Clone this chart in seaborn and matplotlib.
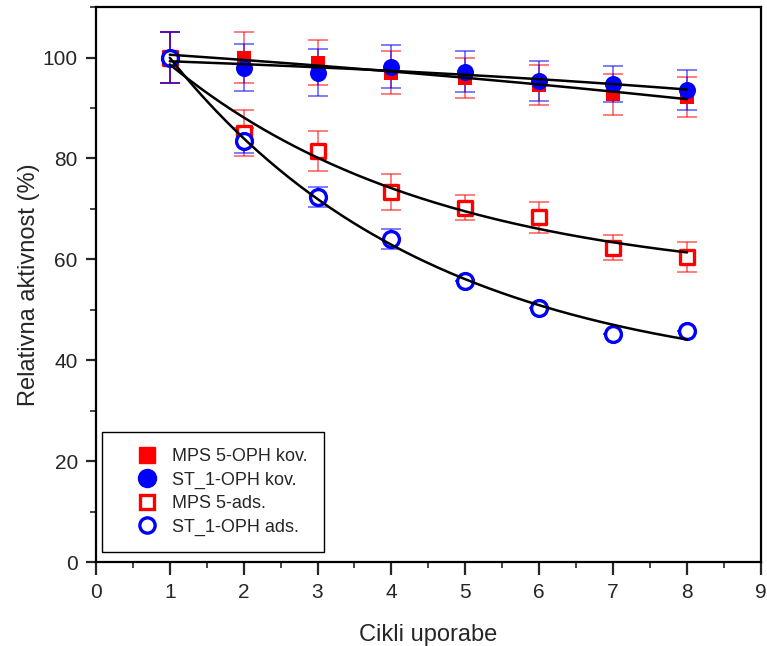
import numpy as np
import pandas as pd
import seaborn as sns
import matplotlib
matplotlib.use('Agg')
import matplotlib.pyplot as plt
from matplotlib.lines import Line2D
from matplotlib.ticker import MultipleLocator

# data
cycles = [1, 2, 3, 4, 5, 6, 7, 8]
mps_kov = [100, 100, 99, 97, 96, 94.5, 92.7, 92.2]
mps_kov_err = [5, 5, 4.4, 4.3, 4, 4, 4, 3.9]
st_kov = [100, 98, 97, 98.2, 97.2, 95.3, 94.8, 93.6]
st_kov_err = [5, 4.7, 4.7, 4.2, 4, 4, 3.6, 4]
mps_ads = [100, 85.1, 81.5, 73.4, 70.2, 68.3, 62.3, 60.5]
mps_ads_err = [5, 4.6, 4, 3.6, 2.5, 3, 2.5, 3]
st_ads = [100, 83.5, 72.3, 64, 55.7, 50.4, 45.2, 45.8]
st_ads_err = [5, 2.5, 2, 2, 0, 0, 0, 0]

labels = ['MPS 5-OPH kov.', 'ST_1-OPH kov.', 'MPS 5-ads.', 'ST_1-OPH ads.']


def exp_fit(x, y):
    """least squares fit y = c + a*exp(-k*x), k found by grid search"""
    x = np.asarray(x, float)
    y = np.asarray(y, float)
    best = None
    for k in np.linspace(-1.0, 1.5, 2501):
        if abs(k) < 1e-4:
            continue
        A = np.column_stack([np.ones_like(x), np.exp(-k * x)])
        coef, *_ = np.linalg.lstsq(A, y, rcond=None)
        sse = np.sum((A @ coef - y) ** 2)
        if best is None or sse < best[0]:
            best = (sse, k, coef)
    _, k, coef = best
    xs = np.linspace(x.min(), x.max(), 200)
    return xs, coef[0] + coef[1] * np.exp(-k * xs)


sns.set_style('ticks')
plt.rcParams['font.family'] = ['Liberation Sans', 'DejaVu Sans']

fig, ax = plt.subplots(figsize=(7.67, 6.46), dpi=100)
fig.subplots_adjust(left=0.125, right=0.992, bottom=0.130, top=0.989)

red = '#ff0000'
blue = '#0000ff'

# error bars
for ys, err, col in [(mps_kov, mps_kov_err, red), (st_kov, st_kov_err, blue),
                     (mps_ads, mps_ads_err, red), (st_ads, st_ads_err, blue)]:
    ax.errorbar(cycles, ys, yerr=err, fmt='none', ecolor=col, alpha=0.55,
                elinewidth=1.3, capsize=7, capthick=1.3, zorder=1)

# markers
sns.scatterplot(x=cycles, y=mps_kov, marker='s', s=110, color=red, edgecolor=red,
                linewidth=0, ax=ax, zorder=2)
sns.scatterplot(x=cycles, y=st_kov, marker='o', s=150, color=blue, edgecolor=blue,
                linewidth=0, ax=ax, zorder=3)
sns.scatterplot(x=cycles, y=mps_ads, marker='s', s=110, color='white', edgecolor=red,
                linewidth=2.4, ax=ax, zorder=4)
sns.scatterplot(x=cycles, y=st_ads, marker='o', s=130, color='white', edgecolor=blue,
                linewidth=2.4, ax=ax, zorder=5)

# fitted curves
for ys in [mps_kov, st_kov, mps_ads, st_ads]:
    fx, fy = exp_fit(cycles, ys)
    sns.lineplot(x=fx, y=fy, color='black', linewidth=1.8, ax=ax, zorder=6)

ax.set_xlim(0, 9)
ax.set_ylim(0, 110)
ax.xaxis.set_major_locator(MultipleLocator(1))
ax.xaxis.set_minor_locator(MultipleLocator(0.5))
ax.yaxis.set_major_locator(MultipleLocator(20))
ax.yaxis.set_minor_locator(MultipleLocator(10))
ax.tick_params(which='major', direction='out', length=7, width=1.6, labelsize=15, pad=6)
ax.tick_params(axis='x', which='major', length=9)
ax.tick_params(which='minor', direction='out', length=4, width=1.2)
ax.tick_params(which='both', top=False, right=False)
for sp in ax.spines.values():
    sp.set_linewidth(1.6)
    sp.set_color('black')

ax.set_xlabel('Cikli uporabe', fontsize=17, labelpad=16)
ax.set_ylabel('Relativna aktivnost (%)', fontsize=17, labelpad=2)

handles = [
    Line2D([], [], linestyle='none', marker='s', markersize=11, color=red, markeredgecolor=red),
    Line2D([], [], linestyle='none', marker='o', markersize=13, color=blue, markeredgecolor=blue),
    Line2D([], [], linestyle='none', marker='s', markersize=10, markerfacecolor='white',
           markeredgecolor=red, markeredgewidth=2.4),
    Line2D([], [], linestyle='none', marker='o', markersize=11, markerfacecolor='white',
           markeredgecolor=blue, markeredgewidth=2.4),
]
leg = ax.legend(handles, labels, loc='lower left', bbox_to_anchor=(0.009, 0.018),
                borderaxespad=0, fontsize=13, frameon=True, fancybox=False,
                edgecolor='black', framealpha=1, borderpad=0.9, handlelength=3.2,
                handletextpad=-0.2, labelspacing=0.36)
leg.get_frame().set_linewidth(1.0)

plt.savefig('out.png', dpi=100)
